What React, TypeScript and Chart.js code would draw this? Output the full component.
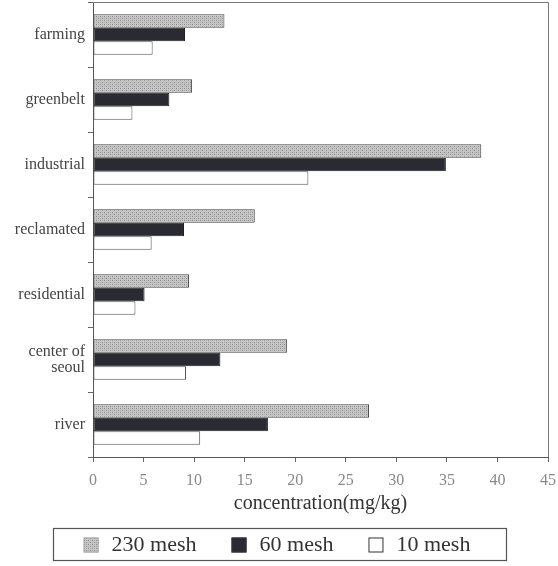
import React, { useEffect, useRef } from 'react';
import { Chart, registerables } from 'chart.js';

Chart.register(...registerables);

const categories: (string | string[])[] = [
  'farming',
  'greenbelt',
  'industrial',
  'reclamated',
  'residential',
  ['center of', 'seoul'],
  'river',
];
const seriesLabels = ['230 mesh', '60 mesh', '10 mesh'];
const mesh230 = [13.0, 9.8, 38.4, 16.0, 9.5, 19.2, 27.3];
const mesh60 = [9.1, 7.55, 34.9, 9.0, 5.1, 12.6, 17.3];
const mesh10 = [5.9, 3.9, 21.3, 5.8, 4.2, 9.2, 10.6];
const xMin = 0;
const xMax = 45;
const xStep = 5;
const xTitle = 'concentration(mg/kg)';

const FONT = "'Liberation Serif', 'Times New Roman', serif";

function makeStipple(): CanvasPattern | string {
  const c = document.createElement('canvas');
  c.width = 4;
  c.height = 4;
  const g = c.getContext('2d');
  if (!g) return '#bbb';
  g.fillStyle = '#c6c6c6';
  g.fillRect(0, 0, 4, 4);
  g.fillStyle = '#8e8e8e';
  g.fillRect(0, 0, 1, 1);
  g.fillRect(2, 2, 1, 1);
  g.fillStyle = '#a8a8a8';
  g.fillRect(2, 0, 1, 1);
  g.fillRect(0, 2, 1, 1);
  const p = g.createPattern(c, 'repeat');
  return p || '#bbb';
}

const boxPlugin = {
  id: 'frameAndLegend',
  afterDraw(chart: any) {
    const { ctx, chartArea } = chart;
    ctx.save();
    // top and right frame lines
    ctx.strokeStyle = '#777';
    ctx.lineWidth = 1;
    ctx.beginPath();
    ctx.moveTo(chartArea.left, chartArea.top + 0.5);
    ctx.lineTo(chartArea.right + 0.5, chartArea.top + 0.5);
    ctx.lineTo(chartArea.right + 0.5, chartArea.bottom);
    ctx.stroke();

    // legend
    const ds = chart.data.datasets;
    ctx.font = `22px ${FONT}`;
    const sq = 15;
    const gap = 13;
    const spacing = 35;
    const widths = ds.map((d: any) => ctx.measureText(d.label).width);
    const total =
      widths.reduce((a: number, b: number) => a + b, 0) +
      ds.length * (sq + gap) +
      (ds.length - 1) * spacing;
    const cx = chart.width / 2;
    const boxW = 453;
    const boxH = 32;
    const boxTop = chartArea.bottom + 71;
    ctx.strokeStyle = '#555';
    ctx.lineWidth = 1.2;
    ctx.strokeRect(Math.round(cx - boxW / 2) + 0.5, boxTop + 0.5, boxW, boxH);
    let x = cx - total / 2 - 2;
    const midY = boxTop + boxH / 2 + 1;
    ds.forEach((d: any, i: number) => {
      ctx.fillStyle = d.backgroundColor;
      ctx.fillRect(x, midY - sq / 2, sq, sq);
      ctx.strokeStyle = d.label === '230 mesh' ? '#aaa' : '#333';
      ctx.lineWidth = 1;
      ctx.strokeRect(x + 0.5, midY - sq / 2 + 0.5, sq - 1, sq - 1);
      x += sq + gap;
      ctx.fillStyle = '#333';
      ctx.textBaseline = 'middle';
      ctx.textAlign = 'left';
      ctx.fillText(d.label, x, midY);
      x += widths[i] + spacing;
    });
    ctx.restore();
  },
};

export default function App() {
  const ref = useRef<HTMLCanvasElement | null>(null);

  useEffect(() => {
    if (!ref.current) return;
    const stipple = makeStipple();
    const chart = new Chart(ref.current, {
      type: 'bar',
      data: {
        labels: categories as any,
        datasets: [
          {
            label: seriesLabels[0],
            data: mesh230,
            backgroundColor: stipple as any,
            borderColor: '#444',
            borderWidth: 1,
            borderSkipped: false,
          },
          {
            label: seriesLabels[1],
            data: mesh60,
            backgroundColor: '#2a2a32',
            borderColor: '#222',
            borderWidth: 1,
            borderSkipped: false,
          },
          {
            label: seriesLabels[2],
            data: mesh10,
            backgroundColor: '#ffffff',
            borderColor: '#555',
            borderWidth: 1,
            borderSkipped: false,
          },
        ],
      },
      options: {
        indexAxis: 'y',
        responsive: false,
        animation: false,
        devicePixelRatio: 1,
        datasets: {
          bar: {
            barPercentage: 1,
            categoryPercentage: 0.62,
          },
        },
        layout: {
          padding: { left: 0, top: 2, right: 10, bottom: 49 },
        },
        plugins: {
          legend: { display: false },
          tooltip: { enabled: false },
        },
        scales: {
          x: {
            type: 'linear',
            min: xMin,
            max: xMax,
            ticks: {
              stepSize: xStep,
              color: '#888',
              font: { family: FONT, size: 16 },
              padding: 9,
            },
            grid: {
              drawOnChartArea: false,
              drawTicks: true,
              tickLength: 5,
              color: '#666',
            },
            border: { color: '#555', width: 1 },
            title: {
              display: true,
              text: xTitle,
              color: '#333',
              font: { family: FONT, size: 20 },
              padding: { top: 0, bottom: 1 },
            },
            afterFit: (scale: any) => {
              scale.height = 60;
              scale.paddingLeft = 0;
              scale.paddingRight = 0;
            },
          },
          y: {
            type: 'category',
            offset: true,
            ticks: {
              color: '#444',
              font: { family: FONT, size: 16, lineHeight: 1.0 },
              padding: 3,
              autoSkip: false,
            },
            grid: {
              offset: true,
              drawOnChartArea: false,
              drawTicks: true,
              tickLength: 5,
              color: '#666',
            },
            border: { color: '#555', width: 1 },
            afterFit: (scale: any) => {
              scale.width = 93;
              scale.paddingTop = 0;
              scale.paddingBottom = 0;
            },
          },
        },
      },
      plugins: [boxPlugin],
    });
    return () => chart.destroy();
  }, []);

  return (
    <div style={{ position: 'absolute', left: 0, top: 0, width: 558, height: 566, background: '#fff' }}>
      <canvas ref={ref} width={558} height={566} style={{ display: 'block' }} />
    </div>
  );
}
